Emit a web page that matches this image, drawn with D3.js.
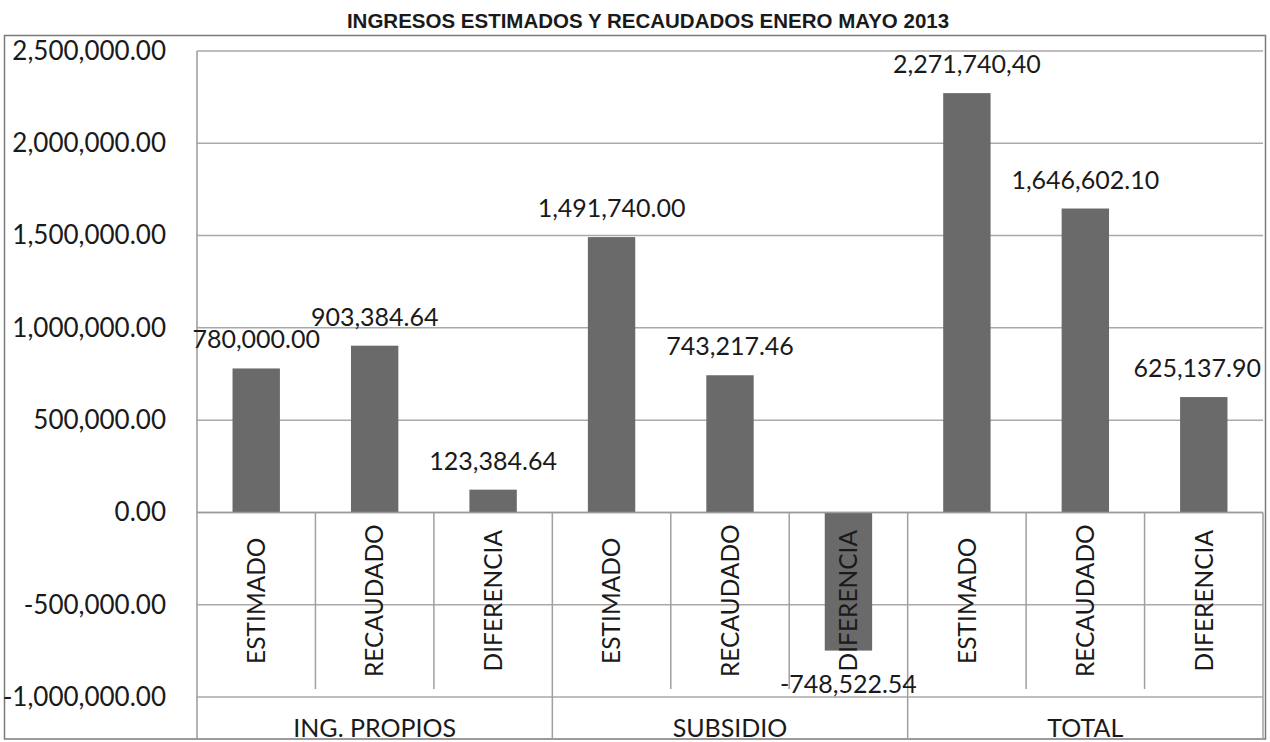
<!DOCTYPE html>
<html>
<head>
<meta charset="utf-8">
<script src="https://cdn.jsdelivr.net/npm/d3@7"></script>
<style>
  body { margin: 0; background: #fff; }
  svg { display: block; }
  text { font-family: Lato, "Open Sans", sans-serif; fill: #1a1a1a; }
</style>
</head>
<body>
<div id="chart"></div>
<script>
// Data
const groups = ["ING. PROPIOS", "SUBSIDIO", "TOTAL"];
const subCats = ["ESTIMADO", "RECAUDADO", "DIFERENCIA"];
const values = [780000.00, 903384.64, 123384.64, 1491740.00, 743217.46, -748522.54, 2271740.40, 1646602.10, 625137.90];
const valueLabels = ["780,000.00", "903,384.64", "123,384.64", "1,491,740.00", "743,217.46", "-748,522.54", "2,271,740,40", "1,646,602.10", "625,137.90"];
const yTicks = [-1000000, -500000, 0, 500000, 1000000, 1500000, 2000000, 2500000];
const title = "INGRESOS ESTIMADOS Y RECAUDADOS ENERO MAYO 2013";

const W = 1270, H = 742;
const plot = {left: 197, right: 1263, top: 51, bottom: 697};

const svg = d3.select("#chart").append("svg").attr("width", W).attr("height", H);

// plain hyphen for negatives, like the original
const fmt = d3.formatLocale({decimal: ".", thousands: ",", grouping: [3], currency: ["", ""], minus: "-"}).format(",.2f");

// one entry per bar
const data = values.map((v, i) => ({
  key: i,
  cat: subCats[i % 3],
  group: groups[Math.floor(i / 3)],
  value: v,
  label: valueLabels[i]
}));

const x = d3.scaleBand()
  .domain(data.map(d => d.key))
  .range([plot.left, plot.right])
  .paddingInner(0.6)
  .paddingOuter(0.3);

const y = d3.scaleLinear()
  .domain([-1000000, 2500000])
  .range([plot.bottom, plot.top]);

const step = x.step();
const x0 = plot.left;
const catBottom = 689;
const frameBottom = 739;

// Title
svg.append("text")
  .attr("x", 648)
  .attr("y", 28)
  .attr("text-anchor", "middle")
  .style("font-family", "'Liberation Sans Narrow', 'Arial Narrow', sans-serif")
  .style("font-weight", "bold")
  .style("font-size", "20.5px")
  .text(title);

// Outer frame
svg.append("rect")
  .attr("x", 4.5).attr("y", 35.5)
  .attr("width", 1261).attr("height", frameBottom - 35.5)
  .attr("fill", "none")
  .attr("stroke", "#7a7a7a")
  .attr("stroke-width", 1.5);

// Gridlines
svg.append("g")
  .selectAll("line")
  .data(yTicks)
  .join("line")
  .attr("x1", plot.left)
  .attr("x2", plot.right)
  .attr("y1", d => y(d))
  .attr("y2", d => y(d))
  .attr("stroke", "#a9a9a9")
  .attr("stroke-width", 1.5);

// Y axis labels
const yAxis = svg.append("g")
  .attr("transform", `translate(${plot.left},0)`)
  .call(d3.axisLeft(y).tickValues(yTicks).tickFormat(fmt).tickSize(0).tickPadding(31));
yAxis.select(".domain").remove();
yAxis.selectAll("text")
  .style("font-family", "Lato, sans-serif")
  .style("font-size", "26px")
  .attr("fill", "#1a1a1a");

// Vertical axis line
svg.append("line")
  .attr("x1", plot.left).attr("x2", plot.left)
  .attr("y1", plot.top).attr("y2", frameBottom)
  .attr("stroke", "#9a9a9a")
  .attr("stroke-width", 1.5);

// Bars
svg.append("g")
  .selectAll("rect")
  .data(data)
  .join("rect")
  .attr("x", d => x(d.key))
  .attr("width", x.bandwidth())
  .attr("y", d => y(Math.max(0, d.value)))
  .attr("height", d => Math.abs(y(d.value) - y(0)))
  .attr("fill", "#6a6a6a");

// Zero line on top of bars
svg.append("line")
  .attr("x1", plot.left).attr("x2", plot.right)
  .attr("y1", y(0)).attr("y2", y(0))
  .attr("stroke", "#9a9a9a")
  .attr("stroke-width", 1.5);

// Category separators (short between items, long between groups)
const seps = d3.range(1, data.length + 1);
svg.append("g")
  .selectAll("line")
  .data(seps)
  .join("line")
  .attr("x1", i => x0 + i * step)
  .attr("x2", i => x0 + i * step)
  .attr("y1", y(0))
  .attr("y2", i => (i % 3 === 0 ? frameBottom : catBottom))
  .attr("stroke", "#a0a0a0")
  .attr("stroke-width", 1.5);

// Category labels, rotated
svg.append("g")
  .selectAll("text")
  .data(data)
  .join("text")
  .attr("transform", d => `translate(${x(d.key) + x.bandwidth() / 2},${(y(0) + catBottom) / 2}) rotate(-90)`)
  .attr("text-anchor", "middle")
  .attr("dy", "0.36em")
  .style("font-size", "24.5px")
  .text(d => d.cat);

// Group labels
svg.append("g")
  .selectAll("text")
  .data(groups)
  .join("text")
  .attr("x", (g, i) => x0 + (i * 3 + 1.5) * step)
  .attr("y", 737)
  .attr("text-anchor", "middle")
  .style("font-size", "25px")
  .text(g => g);

// Data labels
svg.append("g")
  .selectAll("text")
  .data(data)
  .join("text")
  .attr("x", d => x(d.key) + x.bandwidth() / 2)
  .attr("y", d => (d.value >= 0 ? y(d.value) - 20 : y(d.value) + 42))
  .attr("text-anchor", "middle")
  .style("font-size", "25px")
  .text(d => d.label)
  .each(function () {
    // keep labels inside the chart area like Excel does
    const b = this.getBBox();
    if (b.x + b.width > plot.right - 2) {
      d3.select(this).attr("x", +d3.select(this).attr("x") - (b.x + b.width - plot.right + 2));
    }
  });
</script>
</body>
</html>
